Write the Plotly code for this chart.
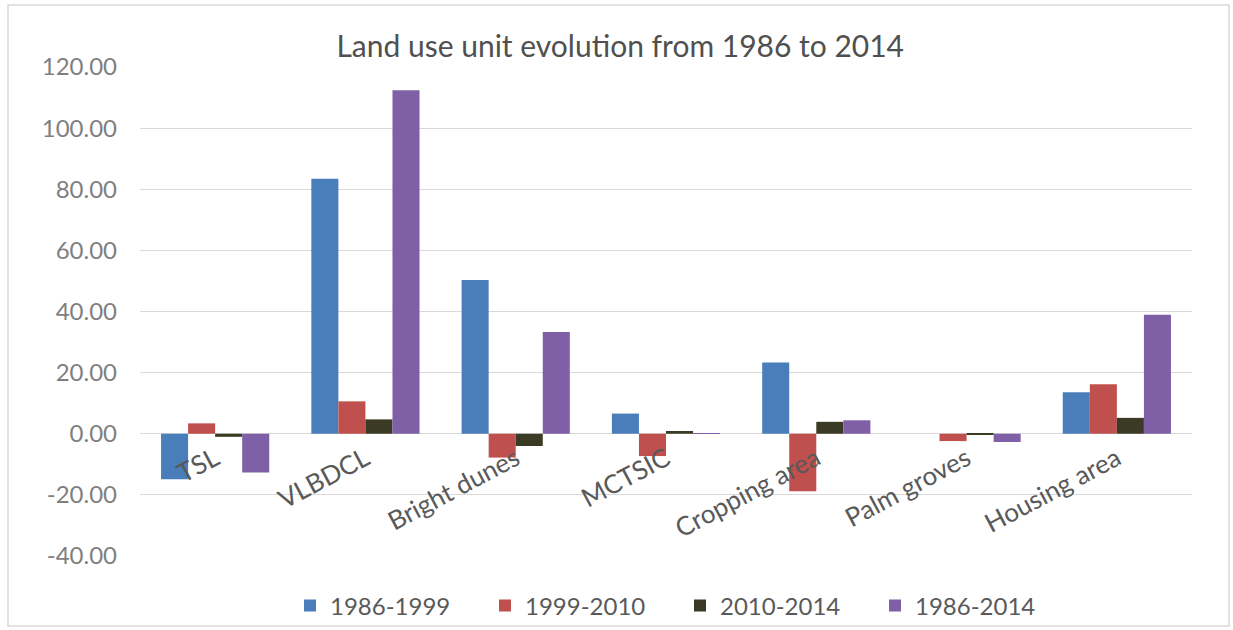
import plotly.graph_objects as go

categories = ["TSL", "VLBDCL", "Bright dunes", "MCTSIC", "Cropping area", "Palm groves", "Housing area"]
s1986_1999 = [-14.9, 83.4, 50.3, 6.6, 23.3, 0.0, 13.6]
s1999_2010 = [3.4, 10.6, -7.8, -7.3, -18.8, -2.4, 16.2]
s2010_2014 = [-1.0, 4.7, -4.0, 0.9, 3.9, -0.4, 5.2]
s1986_2014 = [-12.7, 112.4, 33.3, 0.2, 4.4, -2.7, 38.9]
series_names = ["1986-1999", "1999-2010", "2010-2014", "1986-2014"]
y_ticks = [-40, -20, 0, 20, 40, 60, 80, 100, 120]
y_tick_labels = ["-40.00", "-20.00", "0.00", "20.00", "40.00", "60.00", "80.00", "100.00", "120.00"]

colors = ["#4a7ebb", "#c0504d", "#3b3a24", "#7f60a6"]
W, H = 1233, 630
ML, MR, MT, MB = 140, 41, 67, 74

fig = go.Figure()
for name, vals, col in zip(series_names, [s1986_1999, s1999_2010, s2010_2014, s1986_2014], colors):
    fig.add_trace(go.Bar(x=categories, y=vals, name=name, marker=dict(color=col, line=dict(width=0))))

pw = W - ML - MR
ph = H - MT - MB
fig.add_shape(type="rect", xref="paper", yref="paper",
              x0=(8 - ML) / pw, x1=(1229 - ML) / pw,
              y0=-(626 - MT - ph) / ph, y1=1 + (MT - 5) / ph,
              line=dict(color="#d9d9d9", width=1.5), fillcolor="rgba(0,0,0,0)", layer="below")

ymin, ymax = y_ticks[0], y_ticks[-1]
fig.update_layout(
    width=W, height=H,
    margin=dict(l=ML, r=MR, t=MT, b=MB, autoexpand=False),
    paper_bgcolor="white", plot_bgcolor="white",
    barmode="group", bargap=0.28, bargroupgap=0,
    font=dict(family="Lato, 'Open Sans', sans-serif", color="#595959"),
    title=dict(text="Land use unit evolution from 1986 to 2014", x=0.503, xref="container",
               xanchor="center", y=1 - 46 / H, yref="container", yanchor="middle",
               font=dict(size=30, color="#505050")),
    yaxis=dict(range=[ymin, ymax], tickvals=y_ticks, ticktext=y_tick_labels,
               showgrid=True, gridcolor="#d9d9d9", gridwidth=1,
               zeroline=True, zerolinecolor="#d9d9d9", zerolinewidth=1,
               showline=False, ticks="", ticklen=0, automargin=False,
               tickfont=dict(size=24, color="#7f7f7f"), ticklabelstandoff=22),
    xaxis=dict(anchor="free", position=(0 - ymin) / (ymax - ymin), automargin=False,
               showgrid=False, zeroline=False, showline=False, ticks="",
               tickangle=-28, tickfont=dict(size=26, color="#595959"), ticklabelstandoff=4),
    legend=dict(orientation="h", x=0.5 + 14 / pw, xanchor="center", xref="paper",
                y=1 - 606 / H, yref="container", yanchor="middle",
                bgcolor="rgba(0,0,0,0)",
                font=dict(size=24, color="#595959"),
                entrywidth=150, entrywidthmode="pixels", itemwidth=30),
    showlegend=True,
)

fig.write_html("out.html")
